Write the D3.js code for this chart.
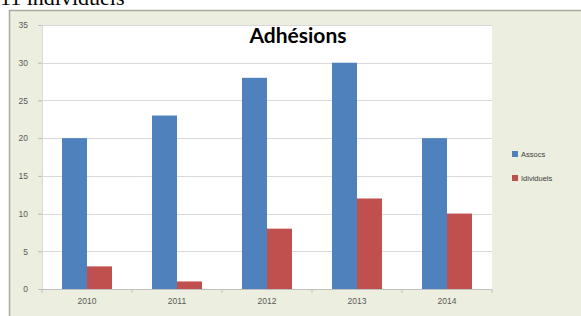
<!DOCTYPE html>
<html>
<head>
<meta charset="utf-8">
<script src="https://cdn.jsdelivr.net/npm/d3@7"></script>
<style>
  html, body { margin: 0; padding: 0; background: #fff; }
  svg { display: block; }
</style>
</head>
<body>
<div id="chart"></div>
<script>
// chart data
const years = ["2010", "2011", "2012", "2013", "2014"];
const assocs = [20, 23, 28, 30, 20];
const individuels = [3, 1, 8, 12, 10];
const seriesNames = ["Assocs", "Idividuels"];
const seriesColors = ["#4f81bd", "#c0504d"];
const yTicks = [0, 5, 10, 15, 20, 25, 30, 35];

const W = 581, H = 316;
const plot = { left: 42, right: 492, top: 25, bottom: 289 };

const svg = d3.select("#chart").append("svg")
    .attr("width", W)
    .attr("height", H);

// caption above the chart, cut off by the top edge as in the screenshot
svg.append("text")
    .attr("x", 0)
    .attr("y", 5)
    .style("font-family", "'Liberation Serif', serif")
    .style("font-size", "22px")
    .style("fill", "#000")
    .text("11 individuels");

// chart frame
svg.append("rect")
    .attr("x", 9.5).attr("y", 10.5)
    .attr("width", W).attr("height", H)
    .attr("fill", "#eceedf")
    .attr("stroke", "#a9aba0")
    .attr("stroke-width", 1.5);

// plot area
svg.append("rect")
    .attr("x", plot.left).attr("y", plot.top)
    .attr("width", plot.right - plot.left)
    .attr("height", plot.bottom - plot.top)
    .attr("fill", "#fff");

const x = d3.scaleBand().domain(years).range([plot.left, plot.right]).paddingInner(0).paddingOuter(0);
const y = d3.scaleLinear().domain([0, 35]).range([plot.bottom, plot.top]);
const barW = 25;

// gridlines
svg.append("g")
    .selectAll("line").data(yTicks.filter(t => t > 0)).enter().append("line")
    .attr("x1", plot.left - 4).attr("x2", plot.right)
    .attr("y1", d => Math.round(y(d)) + 0.5).attr("y2", d => Math.round(y(d)) + 0.5)
    .attr("stroke", "#d9d9d9").attr("stroke-width", 1);

// bars
const series = [assocs, individuels];
series.forEach((vals, si) => {
    svg.append("g").selectAll("rect").data(vals).enter().append("rect")
        .attr("x", (d, i) => x(years[i]) + x.bandwidth() / 2 - barW + si * barW)
        .attr("y", d => y(d))
        .attr("width", barW)
        .attr("height", d => y(0) - y(d))
        .attr("fill", seriesColors[si]);
});

// y axis
const yAxis = svg.append("g")
    .attr("transform", `translate(${plot.left},0)`)
    .call(d3.axisLeft(y).tickValues(yTicks).tickSize(4).tickPadding(10));
yAxis.select(".domain").attr("stroke", "#d9d9d9");
yAxis.selectAll(".tick line").attr("stroke", "#bfbfbf");
yAxis.selectAll("text")
    .style("font-family", "'Liberation Sans', sans-serif")
    .style("font-size", "8.5px")
    .style("fill", "#595959");

// x axis
const xAxis = svg.append("g")
    .attr("transform", `translate(0,${plot.bottom})`)
    .call(d3.axisBottom(x).tickSize(0).tickPadding(9));
xAxis.select(".domain").remove();
xAxis.append("line")
    .attr("x1", plot.left - 4).attr("x2", plot.right)
    .attr("y1", 0.5).attr("y2", 0.5)
    .attr("stroke", "#bfbfbf");
xAxis.selectAll(".sep").data(years.concat(["end"])).enter().append("line")
    .attr("class", "sep")
    .attr("x1", (d, i) => plot.left + i * x.step())
    .attr("x2", (d, i) => plot.left + i * x.step())
    .attr("y1", 0).attr("y2", 4)
    .attr("stroke", "#bfbfbf");
xAxis.selectAll(".tick text")
    .style("font-family", "'Liberation Sans', sans-serif")
    .style("font-size", "8.5px")
    .style("fill", "#595959");

// title
svg.append("text")
    .attr("x", 298)
    .attr("y", 43)
    .attr("text-anchor", "middle")
    .style("font-family", "Lato, sans-serif")
    .style("font-weight", "bold")
    .style("font-size", "21px")
    .style("fill", "#000")
    .text("Adhésions");

// legend
const legend = svg.append("g").attr("transform", "translate(512,151)");
seriesNames.forEach((name, i) => {
    const g = legend.append("g").attr("transform", `translate(0,${i * 24})`);
    g.append("rect").attr("width", 6).attr("height", 6).attr("fill", seriesColors[i]);
    g.append("text")
        .attr("x", 9).attr("y", 6)
        .style("font-family", "'Liberation Sans', sans-serif")
        .style("font-size", "7.5px")
        .style("fill", "#404040")
        .text(name);
});
</script>
</body>
</html>
